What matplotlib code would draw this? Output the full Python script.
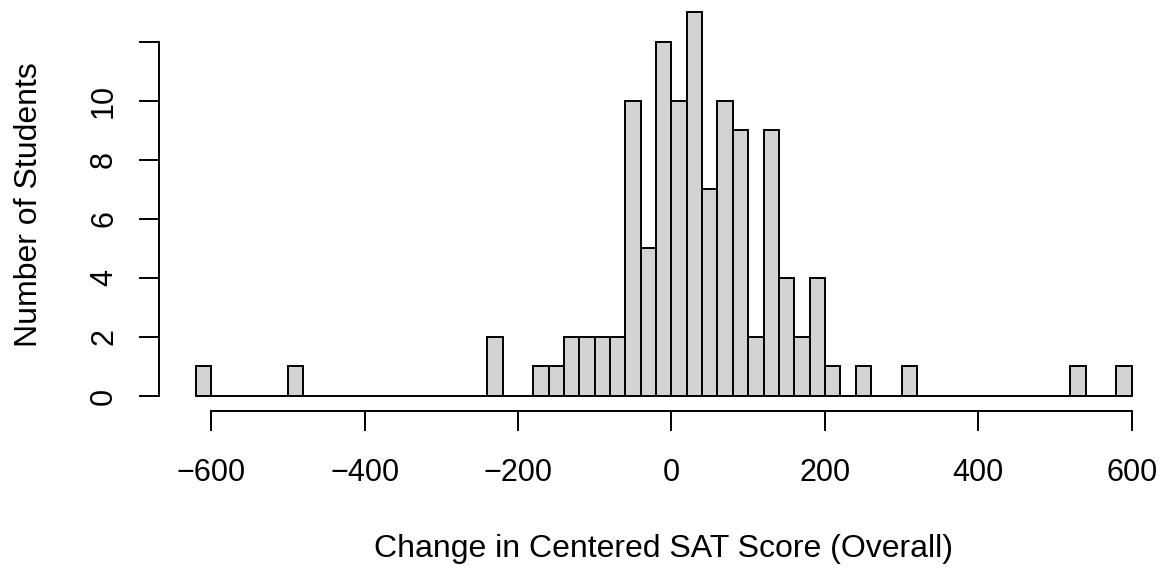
import numpy as np
import matplotlib.pyplot as plt

plt.rcParams['font.family'] = ['Liberation Sans', 'DejaVu Sans']

# histogram bins of width 20, left edges from -620 up to 580
bin_left = np.arange(-620, 600, 20)
counts = [1, 0, 0, 0, 0, 0, 1, 0, 0, 0, 0, 0, 0, 0, 0, 0, 0, 0, 0, 2, 0, 0,
          1, 1, 2, 2, 2, 2, 10, 5, 12, 10, 13, 7, 10, 9, 2, 9, 4, 2, 4,
          1, 0, 1, 0, 0, 1, 0, 0, 0, 0, 0, 0, 0, 0, 0, 0, 1, 0, 0, 1]
x_ticks = [-600, -400, -200, 0, 200, 400, 600]
y_ticks = [0, 2, 4, 6, 8, 10, 12]
y_labels = ['0', '2', '4', '6', '8', '10', '']

W, H = 1176, 569
fs = 22
fig = plt.figure(figsize=(W / 100, H / 100), dpi=100)
# plot region in pixels (R style, 4% padding around data range)
left, right, top, bottom = 158.5, 1169.1, -3.0, 411.3
ax = fig.add_axes([left / W, (H - bottom) / H, (right - left) / W, (bottom - top) / H])

ax.bar(bin_left, counts, width=20, align='edge', color='#d3d3d3',
       edgecolor='black', linewidth=1.4)

ax.set_xlim(-668.8, 648.8)
ax.set_ylim(-0.52, 13.52)
for s in ax.spines.values():
    s.set_visible(False)

# R-like axes: lines spanning only the tick range
ax.plot([-600, 600], [-0.52, -0.52], color='black', lw=1.4, clip_on=False)
ax.plot([-668.8, -668.8], [0, 12], color='black', lw=1.4, clip_on=False)

ax.set_xticks(x_ticks)
ax.set_xticklabels([f'{v}'.replace('-', '\u2212') for v in x_ticks])
ax.set_yticks(y_ticks)
ax.set_yticklabels(y_labels, rotation=90, va='center')
ax.tick_params(axis='both', length=14.4, width=1.4, labelsize=fs)
ax.tick_params(axis='x', pad=19)
ax.tick_params(axis='y', pad=14)

fig.text(663 / W, (H - 557) / H, 'Change in Centered SAT Score (Overall)',
         fontsize=23, ha='center', va='baseline')
fig.text(37 / W, (H - (top + bottom) / 2) / H, 'Number of Students', fontsize=23,
         rotation=90, rotation_mode='anchor', ha='center', va='baseline')

fig.savefig('out.png', dpi=100)
